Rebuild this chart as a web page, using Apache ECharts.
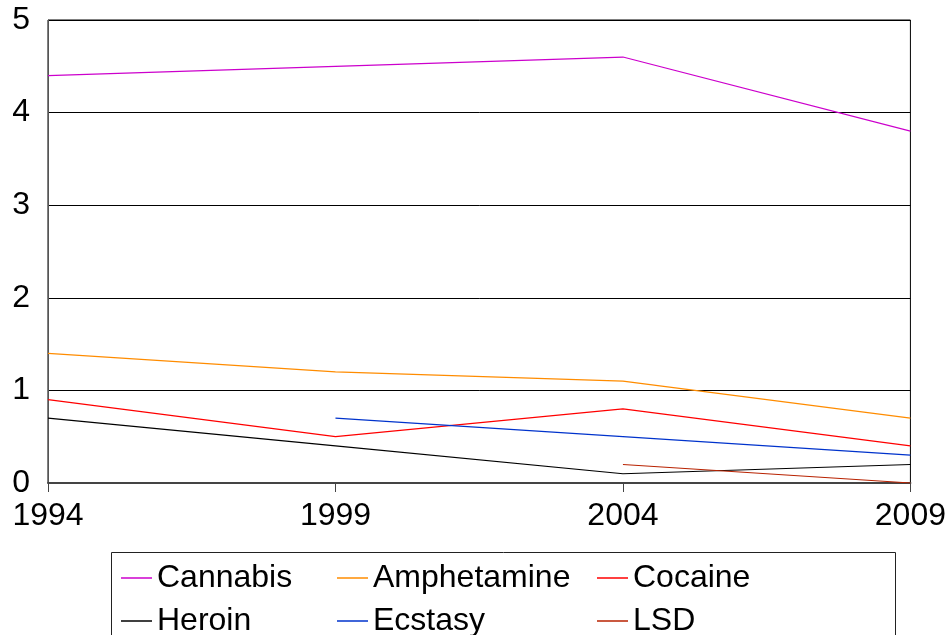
<!DOCTYPE html>
<html>
<head>
<meta charset="utf-8">
<script src="https://cdn.jsdelivr.net/npm/echarts@6/dist/echarts.min.js"></script>
<style>
  html, body { margin: 0; padding: 0; background: #fff; }
  #chart { width: 949px; height: 635px; }
</style>
</head>
<body>
<div id="chart"></div>
<script>
// Survey years on the x axis
const years = ['1994', '1999', '2004', '2009'];

// Prevalence per substance (null = not surveyed that year)
const cannabis    = [4.4, 4.5, 4.6, 3.8];
const amphetamine = [1.4, 1.2, 1.1, 0.7];
const cocaine     = [0.9, 0.5, 0.8, 0.4];
const heroin      = [0.7, 0.4, 0.1, 0.2];
const ecstasy     = [null, 0.7, 0.5, 0.3];
const lsd         = [null, null, 0.2, 0.0];

const seriesNames  = ['Cannabis', 'Amphetamine', 'Cocaine', 'Heroin', 'Ecstasy', 'LSD'];
const seriesData   = [cannabis, amphetamine, cocaine, heroin, ecstasy, lsd];
const seriesColors = ['#CC00CC', '#FF8C00', '#FF0000', '#000000', '#0033CC', '#B82200'];

const font = 'Liberation Sans, Arial, sans-serif';

const chart = echarts.init(document.getElementById('chart'), null, { renderer: 'canvas' });

// One vertical legend per column so each column sits at its own x position
function legendColumn(names, left) {
  return {
    type: 'plain',
    orient: 'vertical',
    left: left,
    top: 562,
    height: 140,
    padding: 0,
    icon: 'rect',
    itemWidth: 31,
    itemHeight: 1.5,
    itemGap: 11,
    selectedMode: false,
    data: names,
    textStyle: { fontFamily: font, fontSize: 32, color: '#000', lineHeight: 32 }
  };
}

chart.setOption({
  animation: false,
  backgroundColor: '#fff',
  grid: {
    left: 48, right: 36, top: 20, bottom: 152,
    show: true, borderColor: '#000', borderWidth: 1
  },
  legend: [
    legendColumn(['Cannabis', 'Heroin'], 121),
    legendColumn(['Amphetamine', 'Ecstasy'], 337),
    legendColumn(['Cocaine', 'LSD'], 597)
  ],
  graphic: [{
    type: 'rect',
    shape: { x: 111.5, y: 552.5, width: 784, height: 120 },
    style: { fill: 'none', stroke: '#222', lineWidth: 1 },
    silent: true,
    z: -1
  }],
  xAxis: {
    type: 'category',
    data: years,
    boundaryGap: false,
    axisLine: { lineStyle: { color: '#444', width: 2 } },
    axisTick: { show: true, length: 9, lineStyle: { color: '#444', width: 1 } },
    axisLabel: { fontFamily: font, fontSize: 32, color: '#000', margin: 17 },
    splitLine: { show: false }
  },
  yAxis: {
    type: 'value',
    min: 0, max: 5, interval: 1,
    axisLine: { show: true, lineStyle: { color: '#555', width: 1 } },
    axisTick: { show: false },
    axisLabel: { fontFamily: font, fontSize: 32, color: '#000', margin: 18 },
    splitLine: { show: true, lineStyle: { color: '#000', width: 1 } }
  },
  series: seriesNames.map((name, i) => ({
    name: name,
    type: 'line',
    data: seriesData[i],
    symbol: 'none',
    connectNulls: false,
    lineStyle: { color: seriesColors[i], width: 1.2 },
    itemStyle: { color: seriesColors[i] }
  }))
});
</script>
</body>
</html>
